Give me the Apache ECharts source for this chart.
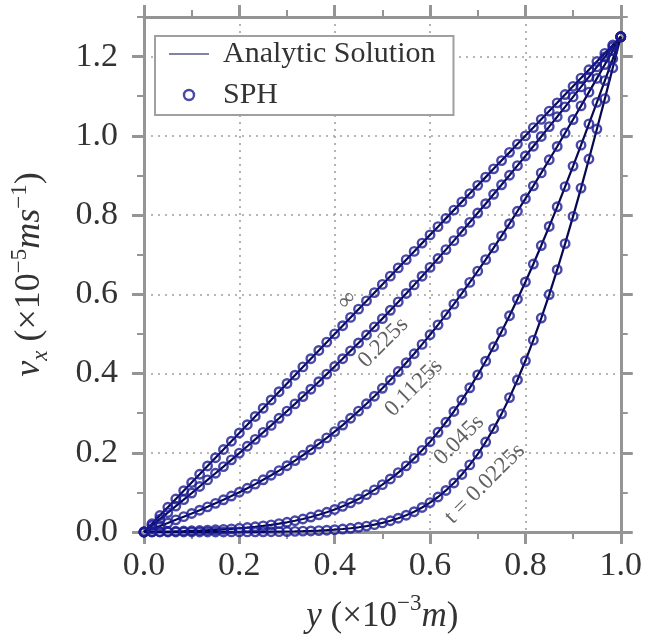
<!DOCTYPE html>
<html>
<head>
<meta charset="utf-8">
<script src="https://cdn.jsdelivr.net/npm/echarts@6/dist/echarts.min.js"></script>
<style>html,body{margin:0;padding:0;background:#fff;}#c{width:645px;height:639px;}</style>
</head>
<body>
<div id="c"></div>
<script>
// particle positions y (x10^-3 m)
const yPos = [0, 0.0167, 0.0333, 0.05, 0.0667, 0.0833, 0.1, 0.1167, 0.1333, 0.15, 0.1667, 0.1833, 0.2, 0.2167, 0.2333, 0.25, 0.2667, 0.2833, 0.3, 0.3167, 0.3333, 0.35, 0.3667, 0.3833, 0.4, 0.4167, 0.4333, 0.45, 0.4667, 0.4833, 0.5, 0.5167, 0.5333, 0.55, 0.5667, 0.5833, 0.6, 0.6167, 0.6333, 0.65, 0.6667, 0.6833, 0.7, 0.7167, 0.7333, 0.75, 0.7667, 0.7833, 0.8, 0.8167, 0.8333, 0.85, 0.8667, 0.8833, 0.9, 0.9167, 0.9333, 0.95, 0.9667, 0.9833, 1.0];
// v_x (x10^-5 m/s) at each time
const vInf = [0, 0.0208, 0.0417, 0.0625, 0.0833, 0.1042, 0.125, 0.1458, 0.1667, 0.1875, 0.2083, 0.2292, 0.25, 0.2708, 0.2917, 0.3125, 0.3333, 0.3542, 0.375, 0.3958, 0.4167, 0.4375, 0.4583, 0.4792, 0.5, 0.5208, 0.5417, 0.5625, 0.5833, 0.6042, 0.625, 0.6458, 0.6667, 0.6875, 0.7083, 0.7292, 0.75, 0.7708, 0.7917, 0.8125, 0.8333, 0.8542, 0.875, 0.8958, 0.9167, 0.9375, 0.9583, 0.9792, 1.0, 1.0208, 1.0417, 1.0625, 1.0833, 1.1042, 1.125, 1.1458, 1.1667, 1.1875, 1.2083, 1.2292, 1.25];
const v0225 = [0, 0.0163, 0.0326, 0.0490, 0.0654, 0.0818, 0.0983, 0.1149, 0.1315, 0.1483, 0.1651, 0.1821, 0.1992, 0.2165, 0.2339, 0.2514, 0.2691, 0.2870, 0.3051, 0.3234, 0.3419, 0.3605, 0.3794, 0.3985, 0.4179, 0.4374, 0.4572, 0.4772, 0.4974, 0.5179, 0.5386, 0.5596, 0.5808, 0.6022, 0.6238, 0.6457, 0.6679, 0.6902, 0.7128, 0.7355, 0.7585, 0.7817, 0.8051, 0.8287, 0.8525, 0.8764, 0.9005, 0.9248, 0.9492, 0.9738, 0.9985, 1.0233, 1.0482, 1.0732, 1.0983, 1.1235, 1.1487, 1.1740, 1.1993, 1.2246, 1.25];
const v01125 = [0, 0.0076, 0.0152, 0.0229, 0.0307, 0.0387, 0.0467, 0.0550, 0.0635, 0.0723, 0.0813, 0.0907, 0.1004, 0.1104, 0.1209, 0.1318, 0.1432, 0.1550, 0.1674, 0.1802, 0.1937, 0.2077, 0.2223, 0.2375, 0.2534, 0.2699, 0.2871, 0.3050, 0.3236, 0.3428, 0.3628, 0.3835, 0.4050, 0.4271, 0.4500, 0.4736, 0.4979, 0.5229, 0.5487, 0.5751, 0.6022, 0.6300, 0.6584, 0.6875, 0.7172, 0.7474, 0.7782, 0.8096, 0.8414, 0.8738, 0.9065, 0.9397, 0.9732, 1.0071, 1.0412, 1.0756, 1.1103, 1.1450, 1.1800, 1.2150, 1.25];
const v0045 = [0, 0.0004, 0.0009, 0.0013, 0.0019, 0.0024, 0.0031, 0.0038, 0.0046, 0.0056, 0.0067, 0.0080, 0.0095, 0.0112, 0.0132, 0.0155, 0.0181, 0.0211, 0.0245, 0.0284, 0.0328, 0.0378, 0.0434, 0.0498, 0.0569, 0.0648, 0.0736, 0.0834, 0.0943, 0.1063, 0.1195, 0.1339, 0.1498, 0.1670, 0.1858, 0.2061, 0.2280, 0.2517, 0.2770, 0.3042, 0.3331, 0.3640, 0.3966, 0.4312, 0.4676, 0.5058, 0.5459, 0.5877, 0.6312, 0.6764, 0.7231, 0.7713, 0.8209, 0.8717, 0.9236, 0.9765, 1.0302, 1.0845, 1.1394, 1.1946, 1.25];
const v00225 = [0, 0, 0, 0, 0, 0, 0, 0, 0.0001, 0.0001, 0.0001, 0.0002, 0.0002, 0.0003, 0.0004, 0.0005, 0.0007, 0.0009, 0.0012, 0.0016, 0.0021, 0.0027, 0.0035, 0.0046, 0.0058, 0.0075, 0.0094, 0.0119, 0.0149, 0.0186, 0.0230, 0.0284, 0.0348, 0.0424, 0.0513, 0.0619, 0.0742, 0.0884, 0.1049, 0.1237, 0.1451, 0.1694, 0.1966, 0.2271, 0.2609, 0.2982, 0.3392, 0.3838, 0.4322, 0.4843, 0.5401, 0.5994, 0.6621, 0.7279, 0.7967, 0.8681, 0.9416, 1.0171, 1.0939, 1.1717, 1.25];
const profiles = [vInf, v0225, v01125, v0045, v00225];
// curve annotations
const curveLabels = ['\u221E', '0.225s', '0.1125s', '0.045s', 't = 0.0225s'];
const curveLabelAt = [[0.4256, 0.585], [0.502, 0.478], [0.566, 0.364], [0.661, 0.232], [0.715, 0.122]];
// axis ticks
const xMajor = [0, 0.2, 0.4, 0.6, 0.8, 1.0];
const yMajor = [0, 0.2, 0.4, 0.6, 0.8, 1.0, 1.2];

const SERIF = '"Liberation Serif", "DejaVu Serif", serif';
const AX = '#959595';
const TXT = '#333';
const gridDot = { color: '#a0a0a0', width: 1.6, type: [2, 5] };

const chart = echarts.init(document.getElementById('c'), null, { renderer: 'canvas' });

const series = [];
profiles.forEach(function (p) {
  series.push({
    name: 'Analytic Solution', type: 'line', symbol: 'none', z: 3,
    lineStyle: { color: '#08084f', width: 2.2 },
    data: yPos.map(function (y, i) { return [y, p[i]]; })
  });
});
profiles.forEach(function (p) {
  series.push({
    name: 'SPH', type: 'scatter', symbol: 'circle', symbolSize: 8.5, z: 4,
    itemStyle: { color: 'rgba(255,255,255,0)', borderColor: '#1a1a94', borderWidth: 2.4 },
    data: yPos.map(function (y, i) { return [y, p[i]]; })
  });
});
series.push({
  type: 'scatter', symbolSize: 0, z: 5, silent: true,
  data: curveLabelAt.map(function (c, i) { return { value: c, name: curveLabels[i] }; }),
  label: {
    show: true, position: 'inside', rotate: 45, formatter: '{b}',
    fontFamily: SERIF, fontSize: 23, color: '#3a3a3a'
  }
});

function majorAxis(pos, dim, withLabels) {
  return {
    type: 'value', position: pos, min: 0, max: dim === 'x' ? 1 : 1.3, interval: 0.1,
    axisLine: { show: true, onZero: false, lineStyle: { color: AX, width: 3 } },
    axisTick: { show: true, inside: false, length: 12, customValues: dim === 'x' ? xMajor : yMajor, lineStyle: { color: AX, width: 3 } },
    axisLabel: withLabels ? {
      show: true, customValues: dim === 'x' ? xMajor : yMajor,
      formatter: function (v) { return v.toFixed(1); },
      fontFamily: SERIF, fontSize: 34, color: TXT, margin: dim === 'x' ? 17 : 26
    } : { show: false },
    splitLine: withLabels ? { show: true, lineStyle: gridDot } : { show: false }
  };
}
function minorAxis(pos, dim) {
  return {
    type: 'value', position: pos, min: 0, max: dim === 'x' ? 1 : 1.3, interval: 0.1,
    axisLine: { show: false, onZero: false },
    axisTick: { show: true, inside: false, length: 7, lineStyle: { color: AX, width: 2 } },
    axisLabel: { show: false }, splitLine: { show: false }
  };
}

const xAxes = [majorAxis('bottom', 'x', true), minorAxis('bottom', 'x'), majorAxis('top', 'x', false), minorAxis('top', 'x')];
const yAxes = [majorAxis('left', 'y', true), minorAxis('left', 'y'), majorAxis('right', 'y', false), minorAxis('right', 'y')];

xAxes[0].name = '{i|y} {n|(\u00D710}{sup|\u22123}{i|m}{n|)}';
xAxes[0].nameLocation = 'middle';
xAxes[0].nameGap = 60;
xAxes[0].nameTextStyle = {
  fontFamily: SERIF, fontSize: 35, color: TXT,
  rich: {
    i: { fontFamily: SERIF, fontSize: 35, fontStyle: 'italic', color: TXT, lineHeight: 42, verticalAlign: 'bottom' },
    n: { fontFamily: SERIF, fontSize: 35, color: TXT, lineHeight: 42, verticalAlign: 'bottom' },
    sup: { fontFamily: SERIF, fontSize: 23, color: TXT, lineHeight: 24, verticalAlign: 'top' }
  }
};
yAxes[0].name = '{i|v}{sub|x} {n|(\u00D710}{sup|\u22125}{i|ms}{sup|\u22121}{n|)}';
yAxes[0].nameLocation = 'middle';
yAxes[0].nameGap = 92;
yAxes[0].nameRotate = 90;
yAxes[0].nameTextStyle = {
  fontFamily: SERIF, fontSize: 36, color: TXT, padding: [0, 0, 0, 0],
  rich: {
    i: { fontFamily: SERIF, fontSize: 36, fontStyle: 'italic', color: TXT, lineHeight: 44, verticalAlign: 'middle' },
    n: { fontFamily: SERIF, fontSize: 36, color: TXT, lineHeight: 44, verticalAlign: 'middle' },
    sup: { fontFamily: SERIF, fontSize: 23, color: TXT, lineHeight: 22, verticalAlign: 'top' },
    sub: { fontFamily: SERIF, fontSize: 23, fontStyle: 'italic', color: TXT, lineHeight: 22, verticalAlign: 'bottom' }
  }
};

chart.setOption({
  animation: false,
  backgroundColor: '#fff',
  grid: { left: 137, right: 24, top: 17, bottom: 104, containLabel: false },
  legend: {
    orient: 'vertical', left: 155, top: 36,
    padding: [2, 18, 4, 14],
    itemWidth: 40, itemHeight: 10, itemGap: 9,
    backgroundColor: '#fff', borderColor: '#a0a0a0', borderWidth: 2, borderRadius: 0,
    textStyle: { fontFamily: SERIF, fontSize: 30, color: TXT, lineHeight: 32, padding: [0, 0, 0, 9] },
    data: [
      { name: 'Analytic Solution', icon: 'path://M0,0 L40,0 L40,1 L0,1 Z', itemStyle: { color: '#08084f' } },
      { name: 'SPH', icon: 'circle', itemStyle: { color: 'rgba(255,255,255,0)', borderColor: '#1a1a94', borderWidth: 2.4 } }
    ],
    selectedMode: false
  },
  xAxis: xAxes,
  yAxis: yAxes,
  series: series
});
</script>
</body>
</html>
